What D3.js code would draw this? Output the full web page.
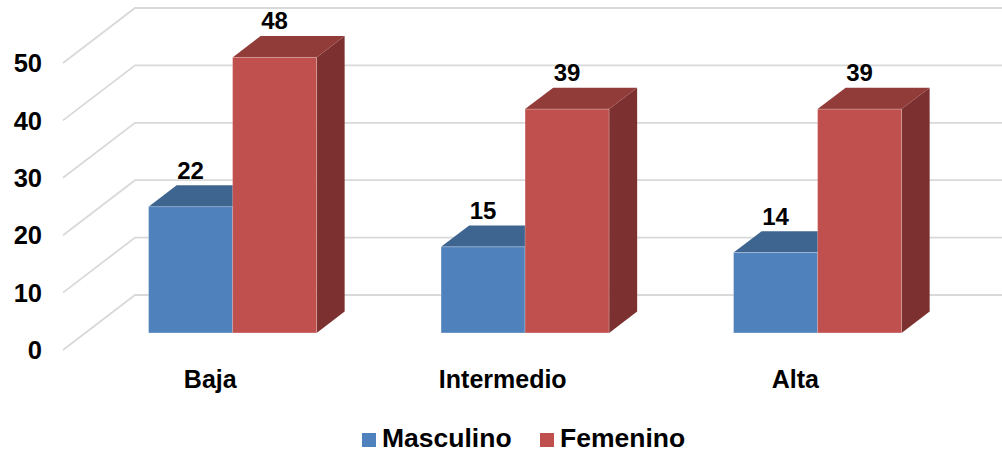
<!DOCTYPE html>
<html>
<head>
<meta charset="utf-8">
<script src="https://cdn.jsdelivr.net/npm/d3@7"></script>
<style>
  html, body { margin: 0; padding: 0; background: #ffffff; }
  svg { display: block; }
  text { font-family: "Liberation Sans", Arial, sans-serif; font-weight: bold; fill: #000; }
</style>
</head>
<body>
<svg id="chart" width="1002" height="452"></svg>
<script>
// Data
const categories = ["Baja", "Intermedio", "Alta"];
const seriesNames = ["Masculino", "Femenino"];
const masculino = [22, 15, 14];
const femenino = [48, 39, 39];
const yTicks = [0, 10, 20, 30, 40, 50];

// Colours per series: front, top, side
const palette = {
  Masculino: { front: "#4F81BD", top: "#3E6590", side: "#34557A" },
  Femenino:  { front: "#C0504D", top: "#923C3A", side: "#7C302F" }
};

const svg = d3.select("#chart");
const W = 1002, H = 452;

// 3D projection: depth runs back-right and up
const depthX = 72, depthY = -55;   // full floor depth offset
const barT0 = 0.31, barT1 = 0.70;  // bar slab position inside the depth

const leftX = 63;
const y = d3.scaleLinear().domain([0, 50]).range([350, 63]);

const x0 = d3.scaleBand()
  .domain(categories)
  .range([64, 941.5])
  .paddingInner(0.4256)
  .paddingOuter(0.2128);
const x1 = d3.scaleBand()
  .domain(seriesNames)
  .range([0, x0.bandwidth()]);

// Gridlines: diagonal on the side wall, horizontal on the back wall
const grid = svg.append("g").attr("class", "grid");
yTicks.forEach(v => {
  const fy = y(v);
  grid.append("path")
    .attr("d", `M${leftX},${fy} L${leftX + depthX},${fy + depthY} L${W + 20},${fy + depthY}`)
    .attr("fill", "none")
    .attr("stroke", "#D9D9D9")
    .attr("stroke-width", 1.8);
});

// Y tick labels
svg.append("g").selectAll("text")
  .data(yTicks)
  .join("text")
  .attr("x", 42)
  .attr("y", d => y(d))
  .attr("dy", "0.36em")
  .attr("text-anchor", "end")
  .style("font-size", "25.5px")
  .text(d => d);

// Bars
const rows = categories.map((c, i) => ({
  category: c,
  values: [
    { series: "Masculino", value: masculino[i] },
    { series: "Femenino", value: femenino[i] }
  ]
}));

const dx0 = depthX * barT0, dy0 = depthY * barT0;
const dx = depthX * (barT1 - barT0), dy = depthY * (barT1 - barT0);

const bars = [];
rows.forEach(r => r.values.forEach(v => bars.push({ category: r.category, ...v })));

const barG = svg.append("g").attr("class", "bars");
bars.forEach(b => {
  const xl = x0(b.category) + x1(b.series) + dx0;
  const xr = xl + x1.bandwidth();
  const yb = y(0) + dy0;
  const yt = y(b.value) + dy0;
  const col = palette[b.series];
  const g = barG.append("g");
  // side face
  g.append("path")
    .attr("d", `M${xr},${yt} L${xr + dx},${yt + dy} L${xr + dx},${yb + dy} L${xr},${yb} Z`)
    .attr("fill", col.side);
  // top face
  g.append("path")
    .attr("d", `M${xl},${yt} L${xl + dx},${yt + dy} L${xr + dx},${yt + dy} L${xr},${yt} Z`)
    .attr("fill", col.top);
  // front face
  g.append("rect")
    .attr("x", xl).attr("y", yt)
    .attr("width", xr - xl).attr("height", yb - yt)
    .attr("fill", col.front)
    .attr("stroke", "rgba(255,255,255,0.25)")
    .attr("stroke-width", 1);
  b.cx = (xl + xr) / 2;
  b.labelY = yt - 28;
});

// Value labels
svg.append("g").selectAll("text")
  .data(bars)
  .join("text")
  .attr("x", d => d.cx)
  .attr("y", d => d.labelY)
  .attr("text-anchor", "middle")
  .style("font-size", "24px")
  .text(d => d.value);

// Category labels
svg.append("g").selectAll("text")
  .data(categories)
  .join("text")
  .attr("x", d => x0(d) + x0.bandwidth() / 2)
  .attr("y", 388)
  .attr("text-anchor", "middle")
  .style("font-size", "25px")
  .text(d => d);

// Legend
const legend = svg.append("g").attr("class", "legend");
const legendItems = [
  { name: "Masculino", x: 362 },
  { name: "Femenino", x: 540 }
];
legendItems.forEach(it => {
  legend.append("rect")
    .attr("x", it.x).attr("y", 433)
    .attr("width", 14).attr("height", 14)
    .attr("fill", palette[it.name].front);
  legend.append("text")
    .attr("x", it.x + 20)
    .attr("y", 447)
    .style("font-size", "26.5px")
    .text(it.name);
});
</script>
</body>
</html>
